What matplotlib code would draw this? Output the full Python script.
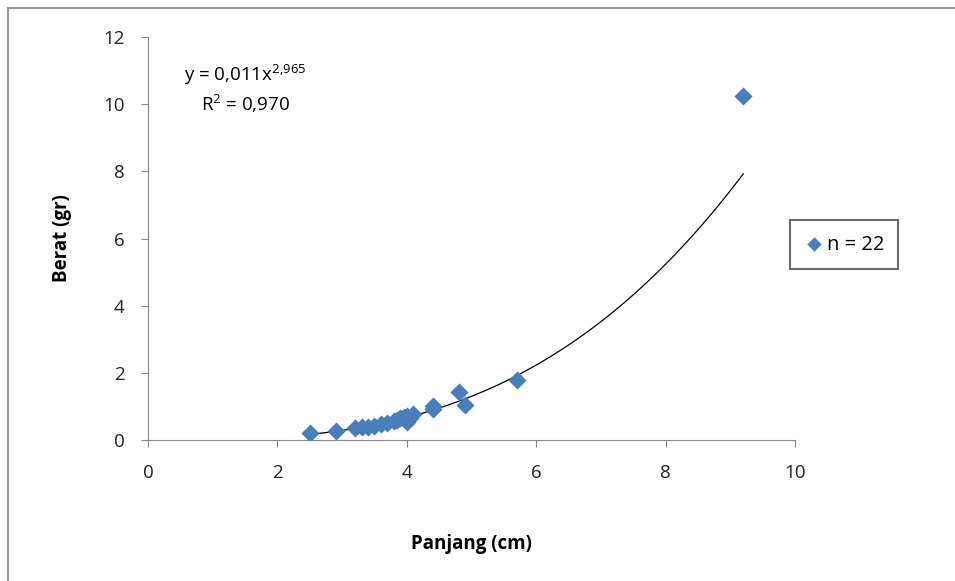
import matplotlib
matplotlib.use("Agg")
import matplotlib.pyplot as plt
import numpy as np
from matplotlib.patches import Rectangle

# length (cm) and weight (gr) of the 22 samples
panjang = [2.5, 2.9, 3.2, 3.3, 3.4, 3.5, 3.6, 3.7, 3.8, 3.85, 3.9,
           3.95, 4.0, 4.0, 4.05, 4.1, 4.4, 4.4, 4.8, 4.9, 5.7, 9.2]
berat = [0.22, 0.28, 0.35, 0.38, 0.40, 0.43, 0.48, 0.52, 0.56, 0.60, 0.64,
         0.68, 0.55, 0.70, 0.66, 0.78, 1.0, 0.92, 1.42, 1.05, 1.8, 10.25]
fit_a, fit_b = 0.011, 2.965

plt.rcParams["font.family"] = ["Open Sans", "DejaVu Sans"]
plt.rcParams["mathtext.fontset"] = "custom"
plt.rcParams["mathtext.rm"] = "Open Sans"
plt.rcParams["mathtext.default"] = "regular"

fig = plt.figure(figsize=(9.55, 5.81), dpi=100)
fig.patches.append(Rectangle((8 / 955, -0.1), 1.2, 1 - 8 / 581 + 0.1,
                             transform=fig.transFigure, fill=False,
                             edgecolor="#9a9a9a", lw=1.5))
ax = fig.add_axes([0.155, 0.2427, 0.6775, 0.6936])

xs = np.linspace(min(panjang), max(panjang), 200)
ax.plot(xs, fit_a * xs ** fit_b, color="black", lw=0.9, zorder=2)
ax.scatter(panjang, berat, marker="D", s=85, color="#4a7ebb", zorder=3,
           label="n = 22", linewidths=0)

ax.set_xlim(0, 10)
ax.set_ylim(0, 12)
ax.set_xticks(range(0, 11, 2))
ax.set_yticks(range(0, 13, 2))
for s in ["top", "right"]:
    ax.spines[s].set_visible(False)
for s in ["left", "bottom"]:
    ax.spines[s].set_color("#888888")
ax.tick_params(colors="#888888", labelcolor="#222222", labelsize=13.5,
               length=5, direction="out")
ax.tick_params(axis="x", pad=12)
ax.tick_params(axis="y", pad=12)

ax.set_xlabel("Panjang (cm)", fontsize=13.5, fontweight="bold", labelpad=38)
ax.set_ylabel("Berat (gr)", fontsize=13.5, fontweight="bold", labelpad=22)

ax.text(0.15, 0.905, "y = 0,011x$^{2{,}965}$", transform=ax.transAxes,
        ha="center", va="center", fontsize=13.5)
ax.text(0.15, 0.835, "R$^{2}$ = 0,970", transform=ax.transAxes,
        ha="center", va="center", fontsize=13.5)

leg = ax.legend(loc="center left", bbox_to_anchor=(0.976, 0.485),
                frameon=True, fancybox=False, fontsize=14.5, handletextpad=0.15,
                borderpad=0.7, handlelength=1.0, markerscale=0.8)
leg.get_frame().set_edgecolor("#444444")
leg.get_frame().set_linewidth(1.5)

fig.savefig("out.png", dpi=100)
